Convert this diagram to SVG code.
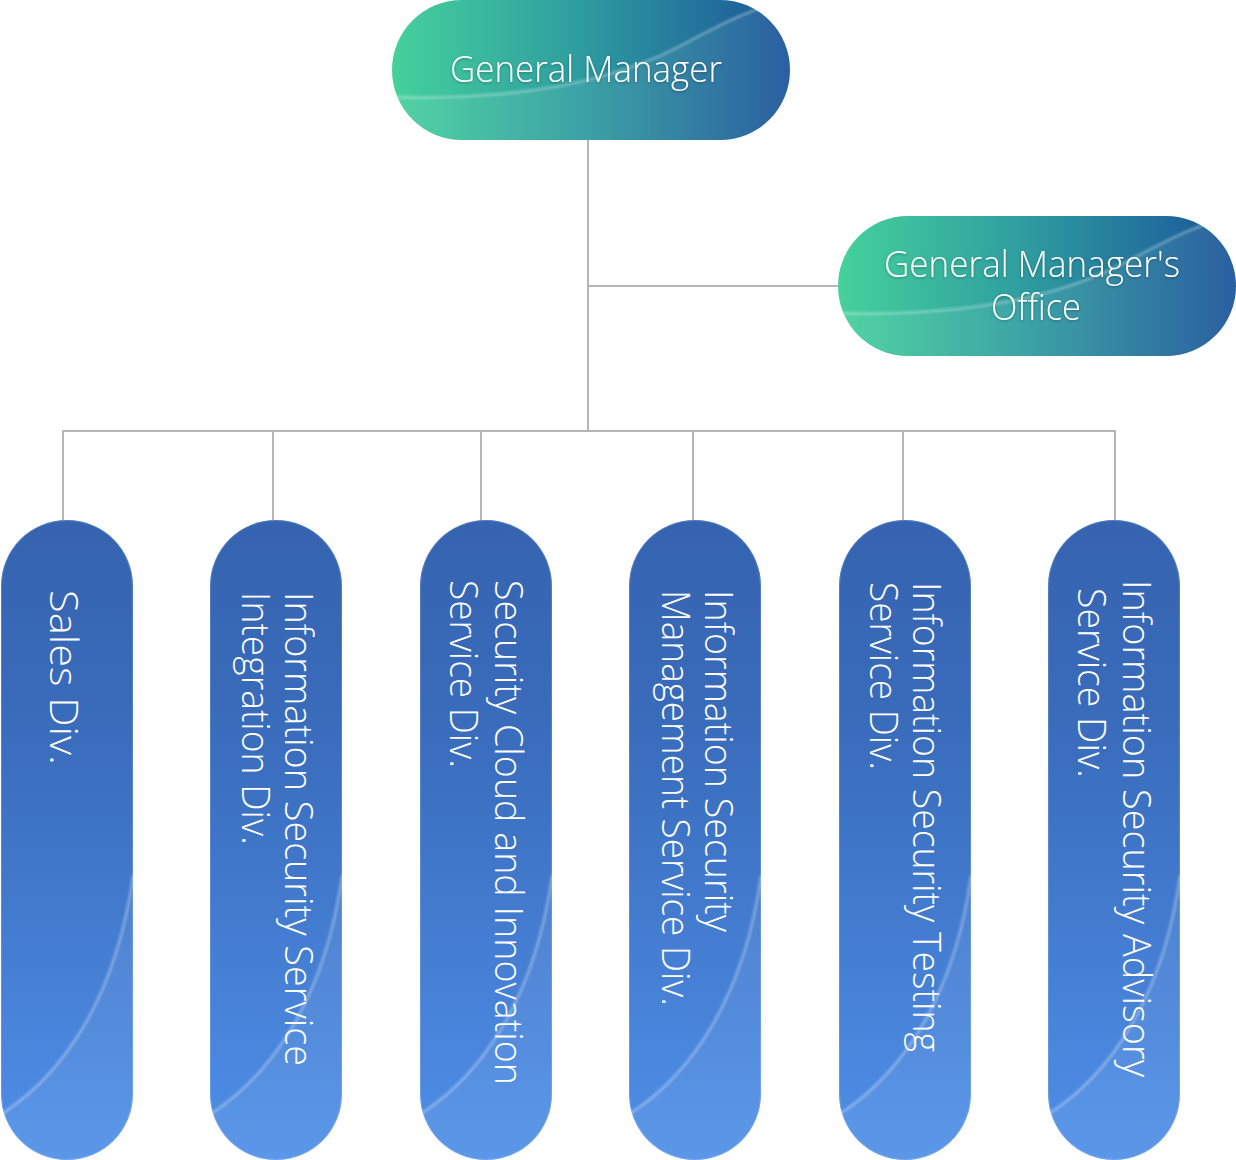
<svg xmlns="http://www.w3.org/2000/svg" width="1236" height="1160" viewBox="0 0 1236 1160">
  <defs>
    <linearGradient id="gTeal" x1="0" y1="0" x2="1" y2="0">
      <stop offset="0" stop-color="#45d19b"/>
      <stop offset="0.45" stop-color="#2f9fa0"/>
      <stop offset="1" stop-color="#1a5499"/>
    </linearGradient>
    <linearGradient id="gBlue" x1="0" y1="0" x2="0" y2="1">
      <stop offset="0" stop-color="#3563af"/>
      <stop offset="0.35" stop-color="#3a6dbd"/>
      <stop offset="1" stop-color="#4f8fe8"/>
    </linearGradient>
    <clipPath id="cGM"><rect x="392" y="0" width="398" height="140" rx="70"/></clipPath>
    <clipPath id="cOF"><rect x="838" y="216" width="398" height="140" rx="70"/></clipPath>
    <filter id="ts" x="-10%" y="-30%" width="120%" height="160%">
      <feDropShadow dx="0" dy="1" stdDeviation="1.5" flood-color="#000" flood-opacity="0.3"/>
    </filter>
    <filter id="soft"><feGaussianBlur stdDeviation="1.2"/></filter>
  </defs>
  <style>
    .conn { stroke: #b5b5b5; stroke-width: 2; fill: none; }
    .lbl { font-family: "Open Sans", "Lato", "Liberation Sans", sans-serif; font-weight: 300; fill: #ffffff; }
    .h { font-size: 36px; }
    .v { font-size: 38px; }
    .gloss { fill: #ffffff; fill-opacity: 0.07; }
    .glossEdge { fill: none; stroke: #ffffff; stroke-opacity: 0.28; stroke-width: 3; }
    .pillEdge { fill: none; stroke: #ffffff; stroke-opacity: 0.15; stroke-width: 1; }
  </style>

  <g id="connectors">
    <line class="conn" x1="588" y1="140" x2="588" y2="431"/>
    <line class="conn" x1="588" y1="286" x2="838" y2="286"/>
    <line class="conn" x1="62" y1="431" x2="1116" y2="431"/>
    <line class="conn" x1="63" y1="430" x2="63" y2="520"/>
    <line class="conn" x1="273" y1="430" x2="273" y2="520"/>
    <line class="conn" x1="481" y1="430" x2="481" y2="520"/>
    <line class="conn" x1="693" y1="430" x2="693" y2="520"/>
    <line class="conn" x1="903" y1="430" x2="903" y2="520"/>
    <line class="conn" x1="1115" y1="430" x2="1115" y2="520"/>
  </g>

  <g id="general-manager">
    <rect x="392" y="0" width="398" height="140" rx="70" fill="url(#gTeal)"/>
    <g clip-path="url(#cGM)">
      <path class="gloss" d="M392 97 C500 100 600 88 680 46 C720 25 750 8 800 -4 L800 140 L392 140 Z"/>
      <path class="glossEdge" filter="url(#soft)" d="M392 97 C500 100 600 88 680 46 C720 25 750 8 800 -4"/>
    </g>
    <text class="lbl h" filter="url(#ts)" x="450" y="82" textLength="272" lengthAdjust="spacingAndGlyphs">General Manager</text>
  </g>

  <g id="general-managers-office">
    <rect x="838" y="216" width="398" height="140" rx="70" fill="url(#gTeal)"/>
    <g clip-path="url(#cOF)">
      <path class="gloss" d="M838 313 C946 316 1046 304 1126 262 C1166 241 1196 224 1246 212 L1246 356 L838 356 Z"/>
      <path class="glossEdge" filter="url(#soft)" d="M838 313 C946 316 1046 304 1126 262 C1166 241 1196 224 1246 212"/>
    </g>
    <text class="lbl h" filter="url(#ts)" x="884" y="277" textLength="296" lengthAdjust="spacingAndGlyphs">General Manager's</text>
    <text class="lbl h" filter="url(#ts)" x="991" y="320" textLength="90" lengthAdjust="spacingAndGlyphs">Office</text>
  </g>

  <g id="sales-div">
    <rect x="1" y="520" width="132" height="640" rx="66" fill="url(#gBlue)"/>
    <path class="gloss" d="M3 1113 C61 1075 116 1000 133 875 L133 1094 A66 66 0 0 1 1 1094 Z"/>
    <path class="glossEdge" filter="url(#soft)" d="M3 1113 C61 1075 116 1000 133 875"/>
    <rect class="pillEdge" x="1.5" y="520.5" width="131" height="639" rx="65.5"/>
    <text class="lbl v" transform="translate(50 590) rotate(90)" textLength="175" lengthAdjust="spacingAndGlyphs">Sales Div.</text>
  </g>

  <g id="info-sec-service-integration-div">
    <rect x="210" y="520" width="132" height="640" rx="66" fill="url(#gBlue)"/>
    <path class="gloss" d="M212 1113 C270 1075 325 1000 342 875 L342 1094 A66 66 0 0 1 210 1094 Z"/>
    <path class="glossEdge" filter="url(#soft)" d="M212 1113 C270 1075 325 1000 342 875"/>
    <rect class="pillEdge" x="210.5" y="520.5" width="131" height="639" rx="65.5"/>
    <text class="lbl v" transform="translate(285 592) rotate(90)" textLength="474" lengthAdjust="spacingAndGlyphs">Information Security Service</text>
    <text class="lbl v" transform="translate(242 592) rotate(90)" textLength="253" lengthAdjust="spacingAndGlyphs">Integration Div.</text>
  </g>

  <g id="security-cloud-innovation-div">
    <rect x="420" y="520" width="132" height="640" rx="66" fill="url(#gBlue)"/>
    <path class="gloss" d="M422 1113 C480 1075 535 1000 552 875 L552 1094 A66 66 0 0 1 420 1094 Z"/>
    <path class="glossEdge" filter="url(#soft)" d="M422 1113 C480 1075 535 1000 552 875"/>
    <rect class="pillEdge" x="420.5" y="520.5" width="131" height="639" rx="65.5"/>
    <text class="lbl v" transform="translate(495 580) rotate(90)" textLength="505" lengthAdjust="spacingAndGlyphs">Security Cloud and Innovation</text>
    <text class="lbl v" transform="translate(450 580) rotate(90)" textLength="188" lengthAdjust="spacingAndGlyphs">Service Div.</text>
  </g>

  <g id="info-sec-management-service-div">
    <rect x="629" y="520" width="132" height="640" rx="66" fill="url(#gBlue)"/>
    <path class="gloss" d="M631 1113 C689 1075 744 1000 761 875 L761 1094 A66 66 0 0 1 629 1094 Z"/>
    <path class="glossEdge" filter="url(#soft)" d="M631 1113 C689 1075 744 1000 761 875"/>
    <rect class="pillEdge" x="629.5" y="520.5" width="131" height="639" rx="65.5"/>
    <text class="lbl v" transform="translate(705 590) rotate(90)" textLength="342" lengthAdjust="spacingAndGlyphs">Information Security</text>
    <text class="lbl v" transform="translate(662 590) rotate(90)" textLength="416" lengthAdjust="spacingAndGlyphs">Management Service Div.</text>
  </g>

  <g id="info-sec-testing-service-div">
    <rect x="839" y="520" width="132" height="640" rx="66" fill="url(#gBlue)"/>
    <path class="gloss" d="M841 1113 C899 1075 954 1000 971 875 L971 1094 A66 66 0 0 1 839 1094 Z"/>
    <path class="glossEdge" filter="url(#soft)" d="M841 1113 C899 1075 954 1000 971 875"/>
    <rect class="pillEdge" x="839.5" y="520.5" width="131" height="639" rx="65.5"/>
    <text class="lbl v" transform="translate(913 582) rotate(90)" textLength="470" lengthAdjust="spacingAndGlyphs">Information Security Testing</text>
    <text class="lbl v" transform="translate(870 582) rotate(90)" textLength="188" lengthAdjust="spacingAndGlyphs">Service Div.</text>
  </g>

  <g id="info-sec-advisory-service-div">
    <rect x="1048" y="520" width="132" height="640" rx="66" fill="url(#gBlue)"/>
    <path class="gloss" d="M1050 1113 C1108 1075 1163 1000 1180 875 L1180 1094 A66 66 0 0 1 1048 1094 Z"/>
    <path class="glossEdge" filter="url(#soft)" d="M1050 1113 C1108 1075 1163 1000 1180 875"/>
    <rect class="pillEdge" x="1048.5" y="520.5" width="131" height="639" rx="65.5"/>
    <text class="lbl v" transform="translate(1123 580) rotate(90)" textLength="497" lengthAdjust="spacingAndGlyphs">Information Security Advisory</text>
    <text class="lbl v" transform="translate(1078 588) rotate(90)" textLength="190" lengthAdjust="spacingAndGlyphs">Service Div.</text>
  </g>
</svg>
